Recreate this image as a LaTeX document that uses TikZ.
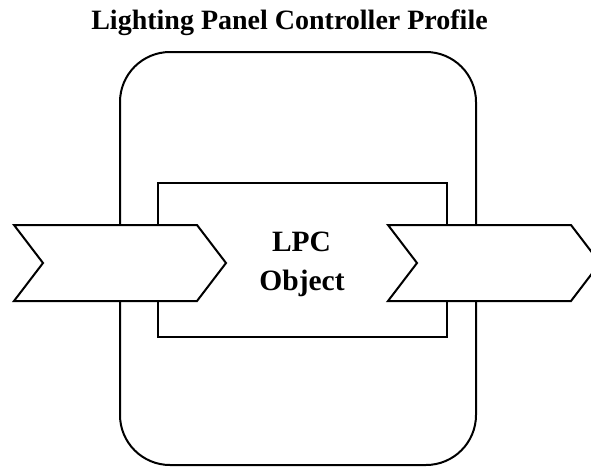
\documentclass[tikz,border=0pt]{standalone}
\usepackage{fontspec}
\setmainfont{Liberation Serif}
\begin{document}
\begin{tikzpicture}[x=1pt,y=-1pt,
  outerbox/.style={draw=black,line width=2pt,rounded corners=50pt},
  innerbox/.style={draw=black,line width=1.6pt,fill=white},
  chevron/.style={draw=black,line width=2pt,fill=white,line join=miter},
  titletext/.style={font=\bfseries\fontsize{28}{32}\selectfont,inner sep=0pt},
  labeltext/.style={font=\bfseries\fontsize{29.5}{34}\selectfont,inner sep=0pt}]
\useasboundingbox (0,0) rectangle (591,466);
\clip (0,0) rectangle (591,466);
\draw[outerbox] (120,52) rectangle (476,465);
\draw[innerbox] (158,183) rectangle (447,337);
\draw[chevron] (14,225) -- (197,225) -- (226,263) -- (197,301) -- (14,301) -- (43,263) -- cycle;
\draw[chevron] (388,225) -- (571,225) -- (600,263) -- (571,301) -- (388,301) -- (417,263) -- cycle;
\node[titletext,anchor=base] (title) at (289.5,29.3) {Lighting Panel Controller Profile};
\node[labeltext,anchor=base] (lpc) at (301.5,251) {LPC};
\node[labeltext,anchor=base] (obj) at (302,290.7) {Object};
\end{tikzpicture}
\end{document}
